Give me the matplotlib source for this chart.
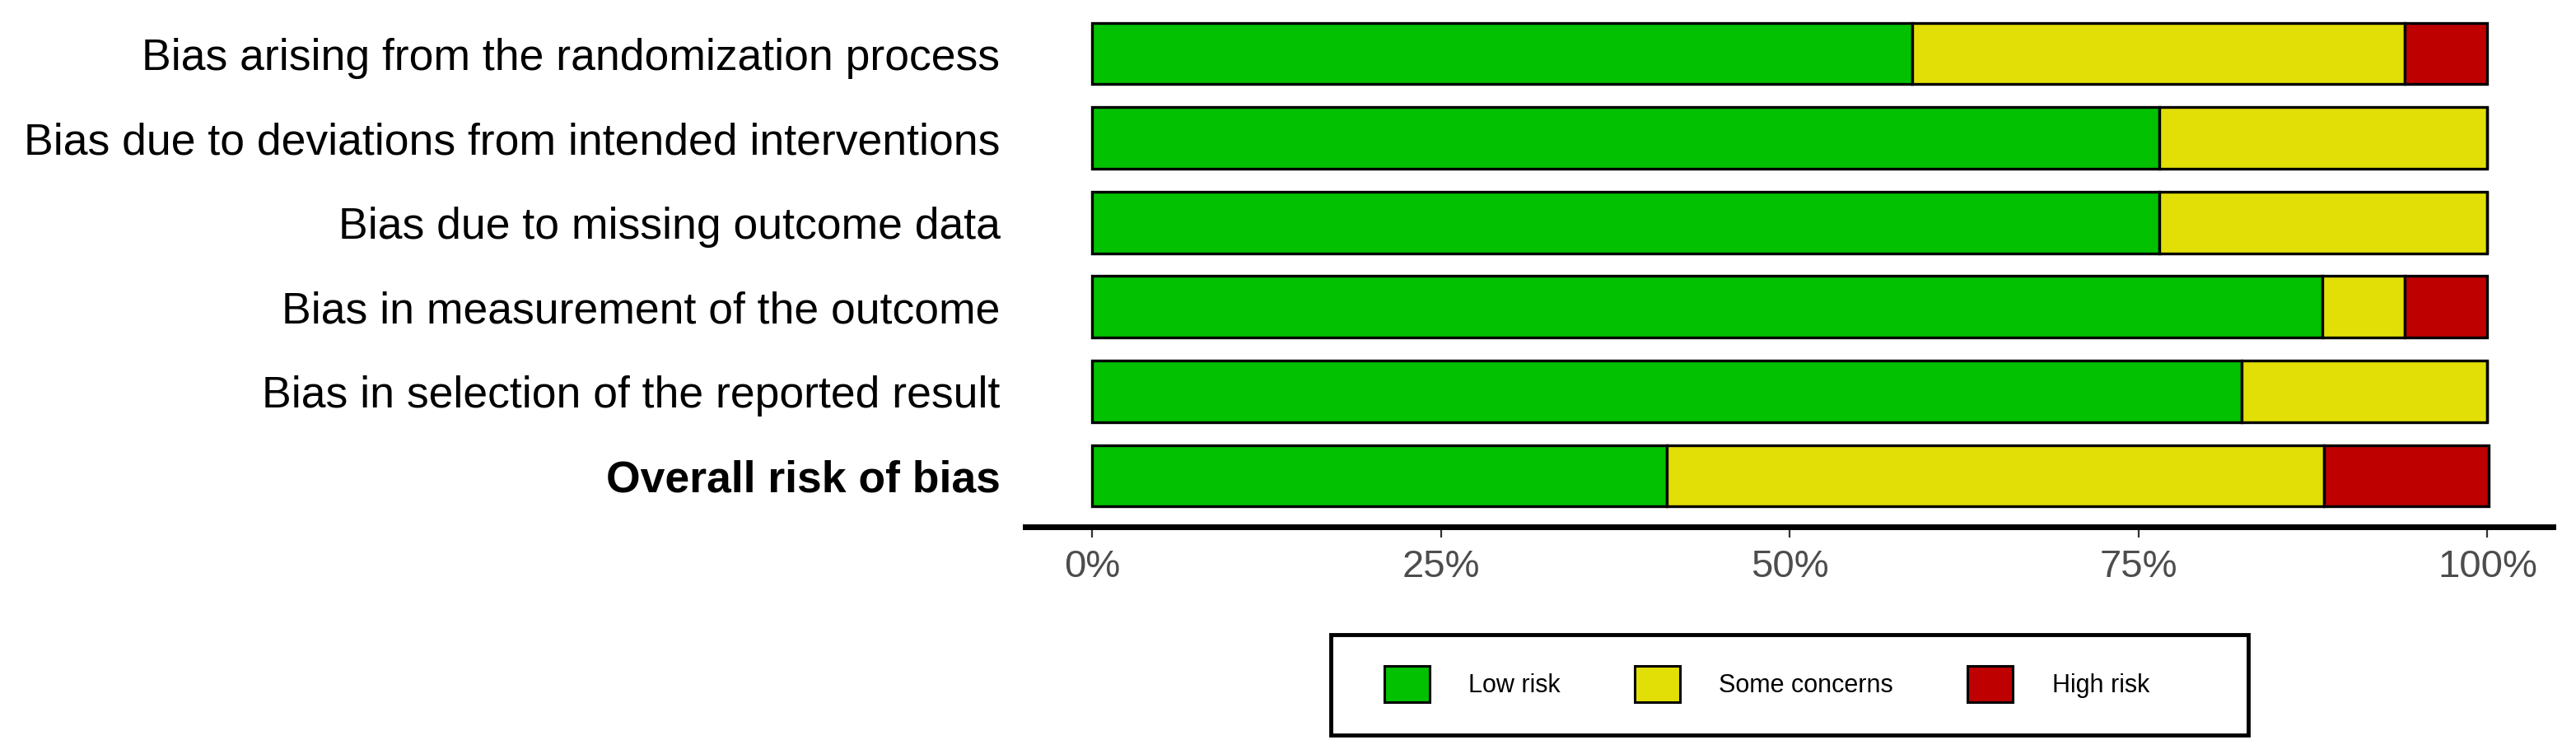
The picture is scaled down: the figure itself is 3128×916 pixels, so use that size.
import numpy as np
import matplotlib
matplotlib.use("Agg")
import matplotlib.pyplot as plt
from matplotlib.patches import Patch, Rectangle

plt.rcParams['font.family'] = ['Liberation Sans', 'DejaVu Sans']

# data (percent of studies)
domains = ["Bias arising from the randomization process",
           "Bias due to deviations from intended interventions",
           "Bias due to missing outcome data",
           "Bias in measurement of the outcome",
           "Bias in selection of the reported result",
           "Overall risk of bias"]
low_risk = [58.8, 76.5, 76.5, 88.2, 82.4, 41.2]
some_concerns = [35.3, 23.5, 23.5, 5.9, 17.6, 47.1]
high_risk = [5.9, 0.0, 0.0, 5.9, 0.0, 11.8]
tick_vals = [0, 25, 50, 75, 100]
tick_labels = ["0%", "25%", "50%", "75%", "100%"]
legend_labels = ["Low risk", "Some concerns", "High risk"]

colors = ["#02C100", "#E2DF07", "#BF0000"]

W, H = 3128, 916
fig = plt.figure(figsize=(W / 100, H / 100), dpi=100)
ax = fig.add_axes([1245 / W, 1 - 640 / H, (3100 - 1245) / W, 640 / H])

ypos = np.arange(len(domains))[::-1]
left = np.zeros(len(domains))
for vals, c in zip([low_risk, some_concerns, high_risk], colors):
    vals = np.array(vals)
    ax.barh(ypos, vals, left=left, height=0.73, color=c,
            edgecolor="black", linewidth=2.4)
    left = left + vals

ax.set_xlim(-4.8, 104.7)
ax.set_ylim(-0.604, 5.634)
ax.set_yticks(ypos)
ax.set_yticklabels(domains, fontsize=38.5, color="black")
ax.get_yticklabels()[-1].set_fontweight("bold")
ax.tick_params(axis="y", length=0, pad=22)

ax.set_xticks(tick_vals)
ax.set_xticklabels(tick_labels, fontsize=34, color="#4D4D4D")
ax.tick_params(axis="x", length=9.5, width=1.6, color="#333333", pad=10)

for s in ["top", "right", "left"]:
    ax.spines[s].set_visible(False)
ax.spines["bottom"].set_linewidth(5)

# legend
handles = [Patch(facecolor=c, edgecolor="black", linewidth=2.2) for c in colors]
leg = fig.legend(handles, legend_labels, ncol=3, frameon=False, fontsize=22,
                 loc="center left", bbox_to_anchor=(1681 / W, 1 - 831 / H),
                 borderpad=0, borderaxespad=0, handlelength=1.8, handleheight=1.86,
                 handletextpad=1.55, columnspacing=2.95)
fig.patches.append(Rectangle((1616 / W, 1 - 893 / H), (2730 - 1616) / W, 122 / H,
                             transform=fig.transFigure, fill=False,
                             edgecolor="black", linewidth=3.5))

fig.savefig("out.png", dpi=100)
